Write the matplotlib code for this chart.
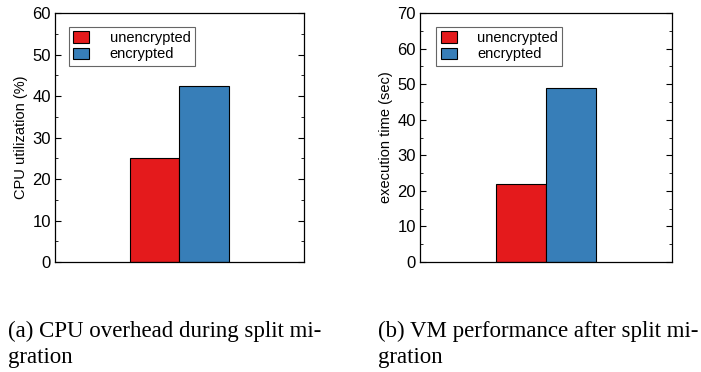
import matplotlib
matplotlib.use('Agg')
from matplotlib import pyplot as plt
from matplotlib.ticker import MultipleLocator

series = ['unencrypted', 'encrypted']
colors = ['#e41a1c', '#377eb8']

cpu_util = [25.0, 42.4]
exec_time = [21.8, 49.0]

ylabels = ['CPU utilization (%)', 'execution time (sec)']
ylims = [60, 70]
captions = [['(a) CPU overhead during split mi-', 'gration'],
            ['(b) VM performance after split mi-', 'gration']]

plt.rcParams['font.family'] = ['Liberation Sans', 'DejaVu Sans']

fig = plt.figure(figsize=(7.01, 3.72), dpi=100)
W, H = 701, 372

# axes boxes in pixels: left, top, right, bottom
boxes = [(55, 13, 304, 262), (420, 13, 672, 262)]
cap_x = [8, 378]
cap_base = [337, 363]

for i, values in enumerate([cpu_util, exec_time]):
    l, t, r, b = boxes[i]
    ax = fig.add_axes([l / W, 1 - b / H, (r - l) / W, (b - t) / H])

    x = [0.3, 0.5]
    for j in range(2):
        ax.bar(x[j], values[j], width=0.2, align='edge', color=colors[j],
               edgecolor='black', linewidth=0.8, label=series[j])

    ax.set_xlim(0, 1)
    ax.set_ylim(0, ylims[i])
    ax.yaxis.set_major_locator(MultipleLocator(10))
    ax.yaxis.set_minor_locator(MultipleLocator(5))
    ax.set_xticks([])
    ax.tick_params(axis='y', which='both', direction='in', left=True, right=True,
                   labelsize=12, pad=3)
    ax.tick_params(axis='y', which='major', length=4, width=0.8)
    ax.tick_params(axis='y', which='minor', length=2, width=0.6)
    for s in ax.spines.values():
        s.set_linewidth(0.9)
    ax.set_ylabel(ylabels[i], fontsize=10.5, labelpad=3)

    leg = ax.legend(loc='upper left', bbox_to_anchor=(0.055 + 0.01 * i, 0.945),
                    fontsize=10.5, fancybox=False, frameon=True, borderaxespad=0,
                    handlelength=1.1, handleheight=0.8, handletextpad=1.4,
                    labelspacing=0.15, borderpad=0.3)
    leg.get_frame().set_edgecolor('0.25')
    leg.get_frame().set_linewidth(0.8)

    for k, line in enumerate(captions[i]):
        fig.text(cap_x[i] / W, 1 - cap_base[k] / H, line, ha='left', va='baseline',
                 family='Liberation Serif', fontsize=16.5)

fig.savefig('out.png', dpi=100)
